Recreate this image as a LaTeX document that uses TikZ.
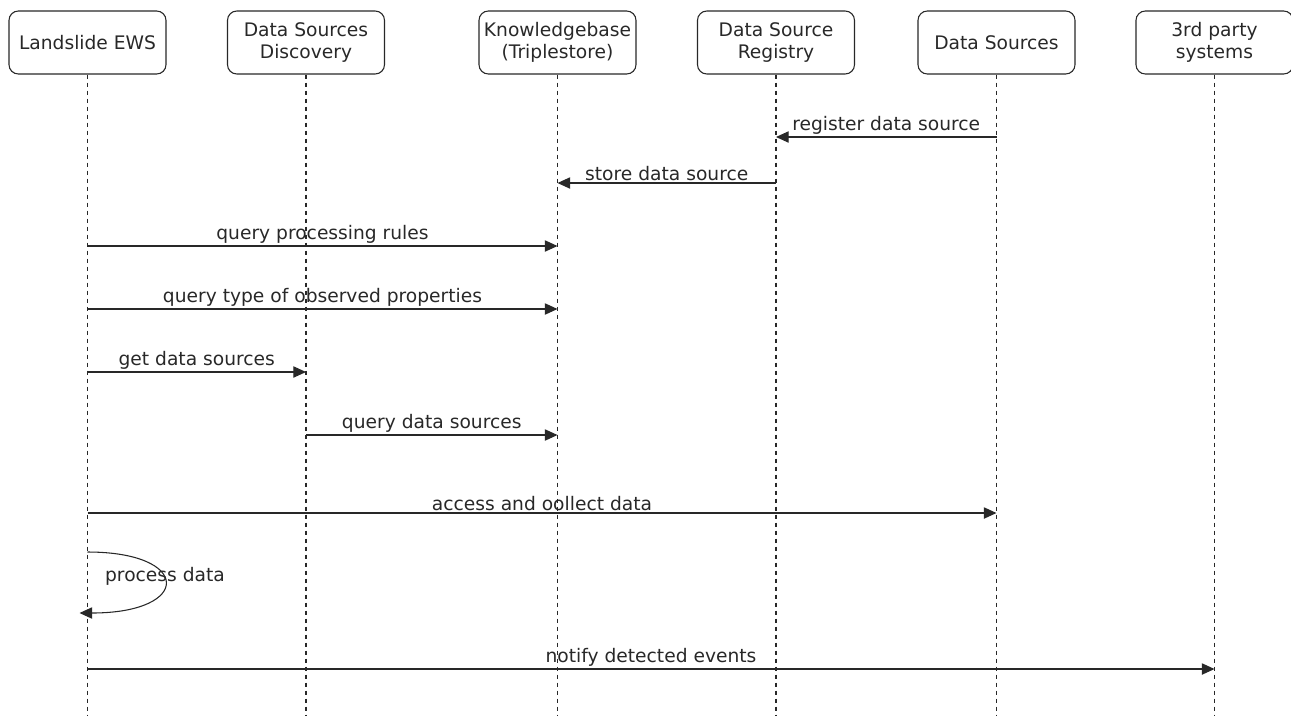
\documentclass[tikz,border=0pt]{standalone}
\usepackage{fontspec}
\setmainfont{DejaVu Sans}
\usepackage{xcolor}
\usetikzlibrary{arrows.meta}

\definecolor{linegray}{RGB}{40,40,40}

\tikzset{
  actor/.style={draw=linegray, line width=0.8pt, rounded corners=7pt, minimum width=117.75pt,
    minimum height=47.25pt, align=center, font=\fontsize{14}{16.5}\selectfont, text=linegray},
  lifeline/.style={draw=linegray, line width=0.8pt, dash pattern=on 3pt off 3pt},
  msg/.style={draw=linegray, line width=0.8pt, -{Triangle[length=9.5pt,width=8.5pt]}},
  msglabel/.style={above, inner sep=1.5pt, font=\fontsize{14}{16}\selectfont, text=linegray}
}

\begin{document}
\begin{tikzpicture}[x=0.75pt, y=-0.75pt]
  \useasboundingbox (0,0) rectangle (1291,715);

  % Participants
  \node[actor] (ews) at (87.5,42.5) {Landslide EWS};
  \node[actor] (dsd) at (306,42.5) {Data Sources\\Discovery};
  \node[actor] (kb) at (557.5,42.5) {Knowledgebase\\(Triplestore)};
  \node[actor] (reg) at (776,42.5) {Data Source\\Registry};
  \node[actor] (ds) at (996.5,42.5) {Data Sources};
  \node[actor] (tps) at (1214.5,42.5) {3rd party\\systems};

  % Lifelines
  \foreach \p in {ews,dsd,kb,reg,ds,tps}{
    \coordinate (\p-end) at (\p.south |- 0,715);
    \draw[lifeline] (\p.south) -- (\p-end);
  }

  % Messages
  \draw[msg] (ds.south |- 0,137) -- node[msglabel] {register data source} (reg.south |- 0,137);
  \draw[msg] (reg.south |- 0,183) -- node[msglabel] {store data source} (kb.south |- 0,183);
  \draw[msg] (ews.south |- 0,246) -- node[msglabel] {query processing rules} (kb.south |- 0,246);
  \draw[msg] (ews.south |- 0,309) -- node[msglabel] {query type of observed properties} (kb.south |- 0,309);
  \draw[msg] (ews.south |- 0,372) -- node[msglabel] {get data sources} (dsd.south |- 0,372);
  \draw[msg] (dsd.south |- 0,435) -- node[msglabel] {query data sources} (kb.south |- 0,435);
  \draw[msg] (ews.south |- 0,513) -- node[msglabel] {access and oollect data} (ds.south |- 0,513);

  % Self call
  \coordinate (loop-in) at (ews.south |- 0,552);
  \coordinate (loop-out) at ([xshift=-6pt]ews.south |- 0,613);
  \draw[msg] (loop-in) .. controls (192,552) and (192,613) .. (loop-out);
  \node[font=\fontsize{14}{16}\selectfont, text=linegray] (proc) at (165,576) {process data};

  % Notification
  \draw[msg] (ews.south |- 0,669) -- node[msglabel] {notify detected events} (tps.south |- 0,669);
\end{tikzpicture}
\end{document}
